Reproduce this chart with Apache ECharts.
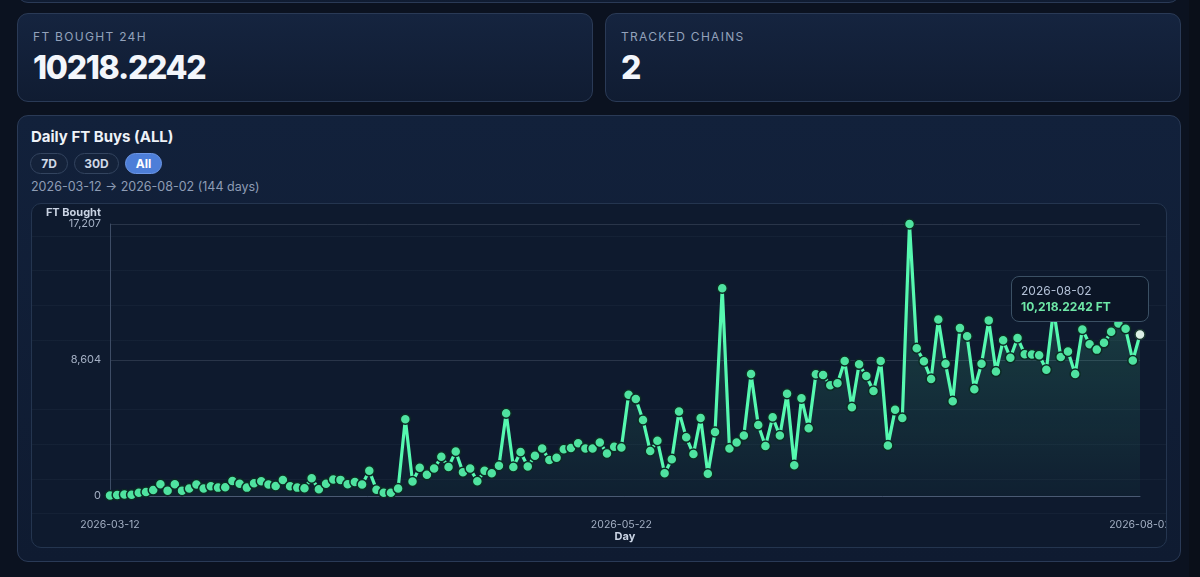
<!DOCTYPE html>
<html>
<head>
<meta charset="utf-8">
<script src="https://cdn.jsdelivr.net/npm/echarts@6/dist/echarts.min.js"></script>
<style>
  html, body { margin:0; padding:0; width:1200px; height:577px; overflow:hidden; background:#0b1220; font-family: Inter, "Noto Sans", sans-serif; }
  .card { position:absolute; box-sizing:border-box; border:1px solid #2a3a56; border-radius:11px;
          background:linear-gradient(180deg,#15243f 0%,#101c32 100%); }
  .lbl { position:absolute; left:15px; top:15px; font-size:12px; letter-spacing:1.3px; color:#93a2bb; }
  .val { position:absolute; left:15px; top:34px; font-size:32px; font-weight:800; color:#f3f6fb; letter-spacing:-1.3px; }
  .title { position:absolute; left:13px; top:11px; font-size:15px; font-weight:700; color:#eef2f8; }
  .pill { position:absolute; top:37px; height:21px; box-sizing:border-box; border:1px solid #33445f; border-radius:11px;
          background:#14223a; color:#cfd8e6; font-size:12px; font-weight:700; line-height:19px; text-align:center; }
  .pill.on { background:#4d7ed8; border-color:#6d97e6; color:#ffffff; }
  .range { position:absolute; left:13px; top:63px; font-size:12.5px; color:#8e9cb4; }
  .box { position:absolute; left:13px; top:87px; width:1136px; height:345px; box-sizing:border-box; border:1px solid #24354f;
         border-radius:10px; overflow:hidden; background-color:#0e1a2e;
         background-image:repeating-linear-gradient(180deg, rgba(0,0,0,0) 0px, rgba(0,0,0,0) 33.7px, rgba(148,163,184,0.05) 33.7px, rgba(148,163,184,0.05) 34.7px);
         background-position:0 -2px; }
  #chart { position:absolute; left:0; top:0; width:1134px; height:343px; }
</style>
</head>
<body>
<div class="card" style="left:17px; top:-40px; width:1163px; height:43px;"></div>
<div style="position:absolute; left:1189px; top:0; width:11px; height:577px; background:#0a0f19;"></div>

<div class="card" style="left:17px; top:13px; width:576px; height:89px;">
  <div class="lbl">FT BOUGHT 24H</div>
  <div class="val">10218.2242</div>
</div>
<div class="card" style="left:605px; top:13px; width:576px; height:89px;">
  <div class="lbl">TRACKED CHAINS</div>
  <div class="val">2</div>
</div>

<div class="card" style="left:17px; top:115px; width:1164px; height:447px; background:linear-gradient(180deg,#12213b 0%,#0f1b31 100%);">
  <div class="title">Daily FT Buys (ALL)</div>
  <div class="pill" style="left:12px; width:38px;">7D</div>
  <div class="pill" style="left:56px; width:45px;">30D</div>
  <div class="pill on" style="left:107px; width:37px;">All</div>
  <div class="range">2026-03-12 → 2026-08-02 (144 days)</div>
  <div class="box"><div id="chart"></div></div>
</div>

<script>
// ---- data ----
const startDate = "2026-03-12";
const dayCount = 144;
const days = [];
(function(){
  const d0 = new Date(startDate + "T00:00:00Z");
  for (let i = 0; i < dayCount; i++) {
    const d = new Date(d0.getTime() + i * 86400000);
    days.push(d.toISOString().slice(0, 10));
  }
})();

const ftBought = [
  30, 70, 90, 80, 210, 250, 380, 740, 340, 740,
  340, 470, 720, 470, 610, 530, 550, 950, 780, 530,
  800, 930, 720, 640, 1010, 620, 530, 490, 1120, 420,
  780, 1040, 1020, 740, 890, 720, 1590, 400, 210, 210,
  470, 4860, 910, 1780, 1340, 1740, 2480, 1840, 2820, 1500,
  1740, 930, 1590, 1440, 1910, 5240, 1840, 2780, 1870, 2540,
  3010, 2270, 2420, 2950, 3030, 3330, 3010, 3010, 3390, 2690,
  3120, 3070, 6400, 6130, 4810, 2840, 3500, 1440, 2330, 5340,
  3710, 2650, 4940, 1400, 4050, 13140, 3010, 3390, 3820, 7720,
  4490, 3160, 4980, 3820, 6470, 1950, 6190, 4280, 7700, 7650,
  7000, 7130, 8540, 5620, 8330, 7590, 6640, 8540, 3200, 5450,
  4940, 17207, 9350, 8520, 7400, 11170, 8370, 6000, 10620, 10110,
  6760, 8370, 11110, 7870, 9850, 8750, 10000, 8970, 8950, 8900,
  7990, 11800, 8800, 9140, 7720, 10540, 9600, 9260, 9690, 10390,
  10920, 10580, 8570, 10218.2242
];

const xLabelDays = ["2026-03-12", "2026-05-22", "2026-08-02"];
const yMax = 17207;
const yTicks = [0, 8604, 17207];

// ---- chart ----
const chart = echarts.init(document.getElementById('chart'), null, { renderer: 'canvas' });
const green = '#4fe3a0';
chart.setOption({
  animation: false,
  backgroundColor: 'transparent',
  grid: { left: 78, right: 26, top: 20, bottom: 51, outerBoundsMode: 'none', containLabel: false },
  tooltip: {
    trigger: 'item',
    transitionDuration: 0,
    backgroundColor: '#0b1526',
    borderColor: '#3b5064',
    borderWidth: 1,
    padding: [6, 9],
    extraCssText: 'box-shadow:none;border-radius:8px;',
    position: function () { return [979, 72]; },
    formatter: function (p) {
      const v = Number(p.value).toLocaleString('en-US', { minimumFractionDigits: 4, maximumFractionDigits: 4 });
      return '<div style="font-family:Inter;font-size:12px;line-height:16px;color:#b3c1d7;width:118px;">' + p.name + '</div>' +
             '<div style="font-family:Inter;font-size:12px;line-height:16px;color:#6ee7a7;font-weight:700;">' + v + ' FT</div>';
    }
  },
  xAxis: {
    type: 'category',
    data: days,
    boundaryGap: false,
    name: 'Day',
    nameLocation: 'middle',
    nameGap: 35,
    nameMoveOverlap: false,
    nameTextStyle: { color: '#c9d3e3', fontSize: 11, fontWeight: 'bold', fontFamily: 'Inter' },
    axisLine: { show: true, lineStyle: { color: '#4a5a73', width: 1 } },
    axisTick: { show: false },
    axisLabel: {
      color: '#a4b0c4', fontSize: 10.5, fontFamily: 'Inter', margin: 23,
      interval: function (i, v) { return xLabelDays.indexOf(v) >= 0; },
      showMinLabel: true, showMaxLabel: true, hideOverlap: false
    },
    splitLine: { show: false }
  },
  yAxis: {
    type: 'value',
    min: 0,
    max: yMax,
    interval: yMax / 2,
    name: 'FT Bought',
    nameLocation: 'end',
    nameGap: 6,
    nameMoveOverlap: false,
    nameTextStyle: { color: '#c9d3e3', fontSize: 11, fontWeight: 'bold', fontFamily: 'Inter', align: 'right', padding: [0, 9, 0, 0] },
    axisLine: { show: true, lineStyle: { color: '#3d4c65', width: 1 } },
    axisTick: { show: false },
    axisLabel: {
      color: '#a4b0c4', fontSize: 11, fontFamily: 'Inter', margin: 9,
      formatter: function (v) { return Math.round(v).toLocaleString('en-US'); }
    },
    splitLine: { show: true, lineStyle: { color: 'rgba(148,163,184,0.2)', width: 1 } }
  },
  series: [{
    type: 'line',
    data: ftBought,
    showAllSymbol: true,
    symbol: 'circle',
    symbolSize: 10,
    lineStyle: { color: green, width: 3.2 },
    itemStyle: { color: green, borderColor: '#0c2b24', borderWidth: 1.5 },
    areaStyle: {
      color: new echarts.graphic.LinearGradient(0, 0, 0, 1, [
        { offset: 0, color: 'rgba(79,227,160,0.30)' },
        { offset: 1, color: 'rgba(79,227,160,0.04)' }
      ])
    },
    emphasis: {
      scale: false,
      focus: 'none',
      itemStyle: { color: '#dcefe5', borderColor: '#1d3a32', borderWidth: 1.5 },
      lineStyle: { width: 3.2 }
    }
  }]
});

setTimeout(function () {
  chart.dispatchAction({ type: 'highlight', seriesIndex: 0, dataIndex: ftBought.length - 1 });
  chart.dispatchAction({ type: 'showTip', seriesIndex: 0, dataIndex: ftBought.length - 1 });
}, 50);
</script>
</body>
</html>
